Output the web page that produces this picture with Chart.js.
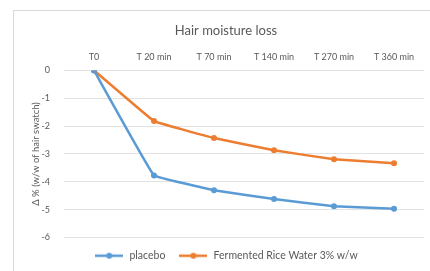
<!DOCTYPE html>
<html>
<head>
<meta charset="utf-8">
<script src="https://cdn.jsdelivr.net/npm/chart.js@4"></script>
<style>
  html, body { margin: 0; padding: 0; background: #fff; }
  #wrap { position: relative; width: 430px; height: 271px; overflow: hidden; }
  #frame { position: absolute; left: 13px; top: 10px; width: 440px; height: 300px; border: 1px solid #d9d9d9; box-sizing: border-box; }
  canvas { position: absolute; left: 0; top: 0; }
</style>
</head>
<body>
<div id="wrap">
  <div id="frame"></div>
  <canvas id="chart" width="430" height="271"></canvas>
</div>
<script>
// tiempos de medida
const tiempos = ['T0', 'T 20 min', 'T 70 min', 'T 140 min', 'T 270 min', 'T 360 min'];
const placebo = [0, -3.77, -4.3, -4.62, -4.88, -4.97];
const arrozFermentado = [0, -1.82, -2.43, -2.87, -3.19, -3.33];
const ticksY = [0, -1, -2, -3, -4, -5, -6];

const gris = '#595959';
const fuente = "Lato, 'Open Sans', sans-serif";
const azul = '#5B9BD5', naranja = '#ED7D31';

// marcador de leyenda: linea con punto
function marcador(color) {
    const c = document.createElement('canvas');
    c.width = 28; c.height = 8;
    const g = c.getContext('2d');
    g.strokeStyle = color; g.lineWidth = 2.5;
    g.beginPath(); g.moveTo(0, 4); g.lineTo(28, 4); g.stroke();
    g.fillStyle = color;
    g.beginPath(); g.arc(14, 4, 3, 0, Math.PI * 2); g.fill();
    return c;
}

new Chart(document.getElementById('chart').getContext('2d'), {
    type: 'line',
    data: {
        labels: tiempos,
        datasets: [
            { label: 'placebo', data: placebo, borderColor: azul, backgroundColor: azul, borderWidth: 2.5, pointRadius: 3, pointBorderWidth: 0, tension: 0.05 },
            { label: 'Fermented Rice Water 3% w/w', data: arrozFermentado, borderColor: naranja, backgroundColor: naranja, borderWidth: 2.5, pointRadius: 3, pointBorderWidth: 0, tension: 0.05 }
        ]
    },
    options: {
        responsive: false,
        animation: false,
        layout: { padding: { left: 28, right: 6, top: 17, bottom: 0 } },
        plugins: {
            title: { display: true, text: 'Hair moisture loss', color: gris, font: { family: fuente, size: 13, weight: 'normal' }, padding: { top: 6, bottom: 5 } },
            legend: {
                position: 'bottom',
                labels: {
                    color: gris, font: { family: fuente, size: 10.5 }, padding: 13, usePointStyle: true, pointStyleWidth: 30,
                    generateLabels: ch => ch.data.datasets.map((d, i) => ({
                        text: d.label, fontColor: gris, pointStyle: marcador(d.borderColor),
                        lineWidth: 0, strokeStyle: 'transparent', fillStyle: d.borderColor, datasetIndex: i
                    }))
                }
            },
            tooltip: { enabled: false }
        },
        scales: {
            x: {
                position: 'top',
                offset: true,
                grid: { display: false, drawTicks: false, offset: true },
                border: { display: false },
                ticks: { color: gris, font: { family: fuente, size: 9 }, padding: 8, maxRotation: 0 }
            },
            y: {
                min: -6, max: 0,
                afterBuildTicks: eje => { eje.ticks = ticksY.map(v => ({ value: v })); },
                afterFit: eje => { eje.width = 36; },
                grid: { color: '#e3e3e3', drawTicks: false },
                border: { display: false },
                ticks: { color: gris, font: { family: fuente, size: 9 }, padding: 14 },
                title: { display: true, text: 'Δ % (w/w of hair swatch)', color: gris, font: { family: fuente, size: 9.5 }, padding: 2 }
            }
        }
    }
});
</script>
</body>
</html>
